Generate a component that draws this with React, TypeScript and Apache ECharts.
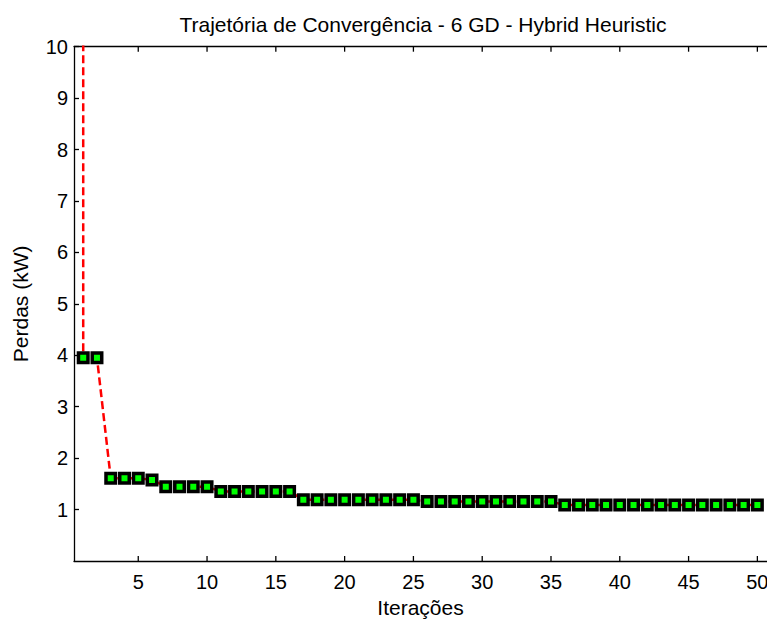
import React, { useEffect, useRef } from "react";
import * as echarts from "echarts";

const iterations = [1, 1, 2, 3, 4, 5, 6, 7, 8, 9, 10, 11, 12, 13, 14, 15, 16, 17, 18, 19, 20, 21, 22, 23, 24, 25, 26, 27, 28, 29, 30, 31, 32, 33, 34, 35, 36, 37, 38, 39, 40, 41, 42, 43, 44, 45, 46, 47, 48, 49, 50];
const losses = [60, 3.95, 3.95, 1.61, 1.61, 1.61, 1.575, 1.445, 1.445, 1.445, 1.445, 1.35, 1.35, 1.35, 1.35, 1.35, 1.35, 1.19, 1.19, 1.19, 1.19, 1.19, 1.19, 1.19, 1.19, 1.19, 1.155, 1.155, 1.155, 1.155, 1.155, 1.155, 1.155, 1.155, 1.155, 1.155, 1.09, 1.09, 1.09, 1.09, 1.09, 1.09, 1.09, 1.09, 1.09, 1.09, 1.09, 1.09, 1.09, 1.09, 1.09];
const xTicks = [5, 10, 15, 20, 25, 30, 35, 40, 45, 50];
const X_MIN = 0.33;
const X_MAX = 50.7;
const Y_MIN = 0;
const Y_MAX = 10;

const FONT = "'Liberation Sans', Arial, Helvetica, sans-serif";
const FS = 20;
const FN = 21;
const TICK = 5;

export default function App() {
  const ref = useRef<HTMLDivElement>(null);
  useEffect(() => {
    if (!ref.current) return;
    const chart = echarts.init(ref.current, null, { renderer: "svg" });
    const data = iterations.map((x, i) => [x, losses[i]]);
    const axisLine = { show: true, onZero: false, lineStyle: { color: "#000", width: 1.3 } };
    const tickStyle = { stroke: "#000", fill: null, lineWidth: 1.3 };
    chart.setOption({
      animation: false,
      backgroundColor: "#fff",
      textStyle: { fontFamily: FONT },
      title: {
        text: "Trajetória de Convergência - 6 GD - Hybrid Heuristic",
        left: 418,
        top: 9,
        textAlign: "center",
        textStyle: { fontFamily: FONT, fontSize: FN, fontWeight: "normal", color: "#000" },
      },
      grid: { left: 74, right: 0, top: 46.7, bottom: 58, containLabel: false, outerBoundsMode: "none" },
      xAxis: [
        {
          type: "value",
          min: X_MIN,
          max: X_MAX,
          position: "bottom",
          name: "Iterações",
          nameLocation: "middle",
          nameGap: 35,
          nameTextStyle: { fontFamily: FONT, fontSize: FN, color: "#000" },
          axisLine,
          axisTick: { show: false },
          axisLabel: { customValues: xTicks, margin: 11, fontFamily: FONT, fontSize: FS, color: "#000" },
          splitLine: { show: false },
        },
        {
          type: "value",
          min: X_MIN,
          max: X_MAX,
          position: "top",
          axisLine,
          axisTick: { show: false },
          axisLabel: { show: false },
          splitLine: { show: false },
        },
      ],
      yAxis: {
        type: "value",
        min: Y_MIN,
        max: Y_MAX,
        interval: 1,
        name: "Perdas (kW)",
        nameLocation: "middle",
        nameGap: 43,
        nameRotate: 90,
        nameTextStyle: { fontFamily: FONT, fontSize: FN, color: "#000" },
        axisLine,
        axisTick: { show: true, inside: true, length: TICK, lineStyle: { color: "#000", width: 1.3 } },
        axisLabel: { showMinLabel: false, margin: 6, fontFamily: FONT, fontSize: FS, color: "#000" },
        splitLine: { show: false },
      },
      series: [
        {
          type: "custom",
          xAxisIndex: 0,
          clip: false,
          silent: true,
          z: 10,
          data: xTicks.map((v) => [v, Y_MIN]),
          renderItem: (params: any, api: any) => {
            const v = api.value(0);
            const b = api.coord([v, Y_MIN]);
            const t = api.coord([v, Y_MAX]);
            return {
              type: "group",
              children: [
                { type: "line", shape: { x1: b[0], y1: b[1], x2: b[0], y2: b[1] - TICK }, style: tickStyle },
                { type: "line", shape: { x1: t[0], y1: t[1], x2: t[0], y2: t[1] + TICK }, style: tickStyle },
              ],
            };
          },
        },
        {
          type: "line",
          xAxisIndex: 0,
          data,
          clip: true,
          symbol: "rect",
          symbolSize: 9.5,
          showAllSymbol: true,
          z: 3,
          lineStyle: { color: "#ff0000", width: 2.5, type: [8, 4] },
          itemStyle: { color: "#00ff00", borderColor: "#000", borderWidth: 3.5 },
        },
      ],
    });
    return () => chart.dispose();
  }, []);
  return <div ref={ref} style={{ position: "absolute", left: 0, top: 0, width: 767, height: 619 }} />;
}
